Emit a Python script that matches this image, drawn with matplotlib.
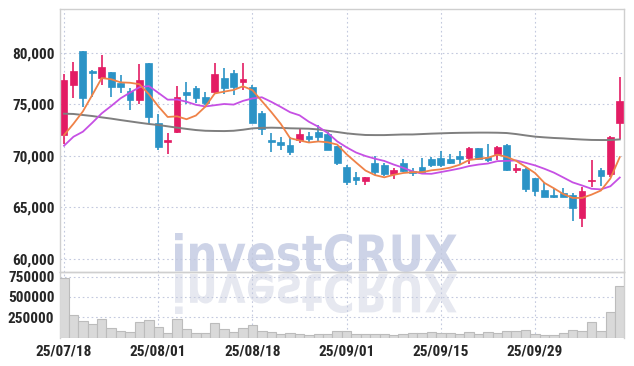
import numpy as np
import matplotlib
matplotlib.use("Agg")
import matplotlib.pyplot as plt
from matplotlib import font_manager as fm
from matplotlib.textpath import TextPath
from matplotlib.patches import PathPatch
from matplotlib.font_manager import FontProperties
from matplotlib.transforms import Affine2D, IdentityTransform

# daily candles (KRW)
opens = [72000, 76900, 80200, 78200, 77500, 78100, 77100, 76300, 75400, 79000,
         73200, 71300, 72300, 76200, 76600, 75700, 76200, 77500, 78000, 77200,
         76700, 74100, 71500, 71300, 71000, 71500, 71900, 72300, 72100, 70900,
         68900, 67900, 67500, 69300, 69100, 68200, 69300, 68500, 68900, 69700,
         69800, 69700, 70000, 69800, 70700, 69900, 70200, 71000, 68600, 68700,
         67800, 66700, 66200, 66400, 66200, 64000, 67500, 68600, 68200, 73200]
highs = [77900, 79100, 80200, 78300, 79800, 78100, 77800, 76600, 78900, 79000,
         74000, 72200, 76800, 77200, 76800, 76200, 79000, 78500, 78300, 79000,
         76900, 74300, 72200, 71800, 71800, 72600, 72300, 73000, 72300, 70900,
         69100, 68400, 67900, 70000, 69300, 68800, 69700, 68800, 69800, 69900,
         70500, 70200, 70500, 70800, 70700, 71100, 70900, 71100, 69200, 68800,
         67800, 67400, 66900, 66900, 66400, 67000, 69600, 68800, 71900, 77600]
lows = [71100, 75600, 74700, 75700, 76900, 75700, 76100, 74400, 75000, 73100,
        70600, 70200, 72200, 75000, 75100, 74900, 76000, 76000, 75900, 76400,
        73200, 72000, 70400, 70600, 70100, 71200, 71200, 71300, 70600, 69100,
        67200, 67200, 67200, 68100, 68000, 67700, 68400, 68000, 68200, 68900,
        68900, 69200, 69200, 69200, 69600, 69400, 69600, 68500, 68300, 66500,
        66100, 66000, 65900, 66000, 63700, 63100, 67000, 67100, 67900, 71600]
closes = [77300, 78200, 75600, 78000, 78600, 76700, 76700, 75400, 77300, 73800,
          70800, 71500, 75700, 75900, 75600, 75100, 77900, 76600, 76700, 77400,
          73200, 72600, 71300, 71000, 70400, 72100, 71600, 71800, 70600, 69300,
          67400, 67600, 67900, 68400, 68200, 68600, 68500, 68300, 68400, 69100,
          69100, 69300, 69700, 70700, 69700, 69600, 70800, 68600, 68800, 66800,
          66600, 66000, 66000, 66000, 64900, 66600, 67600, 68000, 71800, 75300]
volumes = [735000, 273000, 207000, 163000, 224000, 113000, 76000, 64000, 187000, 212000,
           129000, 55000, 224000, 101000, 55000, 52000, 175000, 101000, 64000, 113000,
           150000, 76000, 64000, 39000, 55000, 39000, 27000, 39000, 39000, 76000,
           76000, 39000, 39000, 39000, 39000, 27000, 39000, 52000, 52000, 64000,
           55000, 55000, 39000, 64000, 39000, 64000, 55000, 76000, 76000, 89000,
           43000, 27000, 27000, 55000, 89000, 76000, 187000, 76000, 310000, 634000]

# moving averages as drawn on the chart
ma5 = [72000, 73100, 74300, 75900, 77540, 77420, 77120, 77080, 76940, 75980,
       74800, 73760, 73820, 73540, 73900, 74760, 76040, 76220, 76380, 76740,
       76360, 75300, 74240, 73100, 71700, 71480, 71280, 71380, 71300, 71080,
       70140, 69340, 68560, 68120, 67900, 68140, 68320, 68400, 68400, 68580,
       68680, 68840, 69120, 69580, 69700, 69800, 70100, 69880, 69500, 68920,
       68320, 67360, 66840, 66280, 65900, 65900, 66220, 66620, 67780, 69860]
ma10 = [70970, 71840, 72330, 73200, 74110, 74820, 75570, 76120, 76640, 76760,
        76110, 75440, 75450, 75240, 74940, 74780, 74900, 75020, 74960, 75320,
        75560, 75670, 75230, 74740, 74220, 73920, 73290, 72810, 72200, 71390,
        70810, 70310, 69970, 69710, 69490, 69140, 68830, 68480, 68260, 68240,
        68410, 68580, 68760, 68990, 69140, 69240, 69470, 69500, 69540, 69310,
        69060, 68730, 68360, 67890, 67410, 67110, 66790, 66730, 67030, 67880]
ma_long = [74080, 74050, 73950, 73850, 73720, 73600, 73460, 73330, 73200, 73080,
           72980, 72850, 72720, 72600, 72490, 72420, 72400, 72390, 72420, 72520,
           72650, 72700, 72720, 72700, 72660, 72640, 72620, 72550, 72420, 72300,
           72170, 72080, 72010, 72000, 72000, 72030, 72060, 72060, 72100, 72140,
           72170, 72200, 72220, 72230, 72240, 72240, 72230, 72200, 72100, 71970,
           71850, 71780, 71720, 71680, 71620, 71570, 71530, 71520, 71520, 71580]

tick_idx = [0, 10, 20, 30, 40, 50]
tick_labels = ["25/07/18", "25/08/01", "25/08/18", "25/09/01", "25/09/15", "25/09/29"]
price_ticks = [60000, 65000, 70000, 75000, 80000]
vol_ticks = [250000, 500000, 750000]

UP = "#e31c64"
DOWN = "#2b93c6"
GRID = "#c3c9de"
SPINE = "#cfcfcf"
LABEL = "#262626"

# the labels are set in a narrow face; take one if installed, else Liberation Sans bold
names = {f.name for f in fm.fontManager.ttflist}
lab_font = None
for cand in ["Liberation Sans Narrow", "Roboto Condensed", "Noto Sans Condensed",
             "Open Sans Condensed", "DejaVu Sans Condensed", "Arial Narrow"]:
    if cand in names:
        lab_font = FontProperties(family=cand, weight="bold", size=11)
        break
if lab_font is None:
    lab_font = FontProperties(family="Liberation Sans", weight="bold", size=9.4)

fig = plt.figure(figsize=(6.34, 3.66), dpi=100)
fig.patch.set_facecolor("white")
ax = fig.add_axes([60 / 634, 94 / 366, 564 / 634, 263 / 366])
axv = fig.add_axes([60 / 634, 28.5 / 366, 564 / 634, 65.5 / 366], sharex=ax)

x = np.arange(len(closes))
o = np.array(opens)
c = np.array(closes)
up = c >= o
cols = np.where(up, UP, DOWN)

# wicks then bodies
ax.vlines(x, lows, highs, colors=cols, linewidth=1.2, zorder=3)
body_lo = np.minimum(o, c)
body_h = np.maximum(np.abs(c - o), 60)
ax.bar(x, body_h, bottom=body_lo, width=0.72, color=cols, edgecolor=cols,
       linewidth=0.5, zorder=4)

ax.plot(x, ma_long, color="#7f7f7f", linewidth=1.4, zorder=5)
ax.plot(x, ma10, color="#c650e4", linewidth=1.3, zorder=5)
ax.plot(x, ma5, color="#ef8248", linewidth=1.3, zorder=5)

ax.set_xlim(-0.43, 59.45)
ax.set_ylim(58710, 84240)
ax.set_yticks(price_ticks)
ax.set_yticklabels([f"{v:,}" for v in price_ticks], fontproperties=lab_font, color=LABEL)
ax.set_xticks(tick_idx)
ax.tick_params(axis="x", labelbottom=False, length=0)
ax.tick_params(axis="y", length=0, pad=4)
ax.grid(True, color=GRID, linestyle=(0, (1.5, 2.5)), linewidth=0.8)
ax.set_axisbelow(True)
ax.set_facecolor("none")
for s in ax.spines.values():
    s.set_color(SPINE)
    s.set_linewidth(1.0)

axv.bar(x, volumes, width=1.0, color="#d9d9d9", edgecolor="#bcbcbc", linewidth=0.8, zorder=3)
axv.set_ylim(0, 808000)
axv.set_yticks(vol_ticks)
axv.set_yticklabels([str(v) for v in vol_ticks], fontproperties=lab_font, color=LABEL)
axv.set_xticks(tick_idx)
axv.set_xticklabels(tick_labels, fontproperties=lab_font, color=LABEL)
axv.tick_params(axis="both", length=0)
axv.tick_params(axis="y", pad=4)
axv.tick_params(axis="x", pad=5)
axv.grid(True, color=GRID, linestyle=(0, (1.5, 2.5)), linewidth=0.8)
axv.set_axisbelow(True)
axv.set_facecolor("none")
for s in axv.spines.values():
    s.set_color(SPINE)
    s.set_linewidth(1.0)
axv.spines["bottom"].set_visible(False)

# watermark with its mirror image
tp = TextPath((0, 0), "investCRUX", size=100,
              prop=FontProperties(family="DejaVu Sans", weight="bold"))
bb = tp.get_extents()
sx = (457 - 175) / bb.width
tr = Affine2D().translate(-bb.x0, -bb.y0).scale(sx, 39 / bb.height).translate(175, 94)
tr2 = Affine2D().translate(-bb.x0, -bb.y0).scale(sx, -40.7 / bb.height).translate(175, 92.7)
wm = PathPatch(tr.transform_path(tp), facecolor="#cdd3e7", edgecolor="none",
               transform=IdentityTransform(), zorder=-1)
wm2 = PathPatch(tr2.transform_path(tp), facecolor="#e6e8f0", edgecolor="none",
                transform=IdentityTransform(), zorder=-1)
fig.add_artist(wm)
fig.add_artist(wm2)

fig.savefig("out.png", dpi=100, facecolor="white")
